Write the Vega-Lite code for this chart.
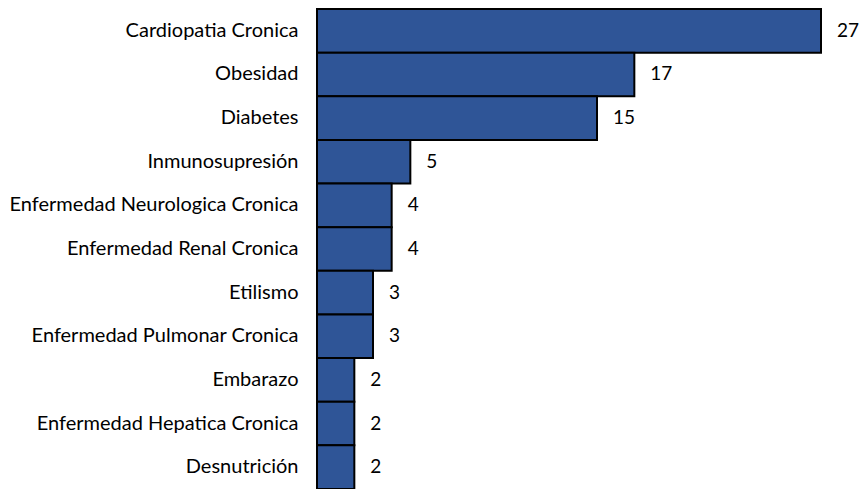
{
  "$schema": "https://vega.github.io/schema/vega-lite/v6.json",
  "autosize": "none",
  "padding": {"left": 317, "top": 9, "right": 39, "bottom": 0},
  "width": 504,
  "height": 480,
  "background": "white",
  "config": {"view": {"stroke": null}, "font": "Lato"},
  "data": {"values": [
    {"cat": "Cardiopatia Cronica", "n": 27},
    {"cat": "Obesidad", "n": 17},
    {"cat": "Diabetes", "n": 15},
    {"cat": "Inmunosupresión", "n": 5},
    {"cat": "Enfermedad Neurologica Cronica", "n": 4},
    {"cat": "Enfermedad Renal Cronica", "n": 4},
    {"cat": "Etilismo", "n": 3},
    {"cat": "Enfermedad Pulmonar Cronica", "n": 3},
    {"cat": "Embarazo", "n": 2},
    {"cat": "Enfermedad Hepatica Cronica", "n": 2},
    {"cat": "Desnutrición", "n": 2}
  ]},
  "encoding": {
    "y": {"field": "cat", "type": "nominal", "sort": null,
      "scale": {"paddingInner": 0, "paddingOuter": 0},
      "axis": {"title": null, "ticks": false, "labelFontSize": 20, "labelColor": "#000000", "labelPadding": 19, "domainColor": "#BFBFBF", "domainWidth": 1, "labelLimit": 400, "labelFont": "Lato"}},
    "x": {"field": "n", "type": "quantitative", "scale": {"domain": [0, 27], "nice": false}, "axis": null}
  },
  "layer": [
    {"mark": {"type": "bar", "fill": "#2F5597", "stroke": "#000000", "strokeWidth": 2}},
    {"mark": {"type": "text", "align": "left", "baseline": "middle", "dx": 16, "fontSize": 19, "color": "#000000", "font": "Lato"},
     "encoding": {"text": {"field": "n", "type": "quantitative"}}}
  ]
}
